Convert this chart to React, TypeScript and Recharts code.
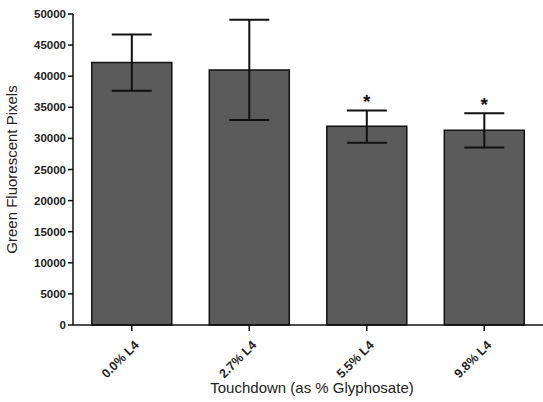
import { ComposedChart, Bar, ErrorBar, Scatter, XAxis, YAxis } from 'recharts';

const categories = ['0.0% L4', '2.7% L4', '5.5% L4', '9.8% L4'];
const means = [42200, 41000, 31950, 31330];
const lower = [37650, 32950, 29300, 28550];
const upper = [46720, 49080, 34500, 34030];
const significant = [false, false, true, true];
const yTicks = [0, 5000, 10000, 15000, 20000, 25000, 30000, 35000, 40000, 45000, 50000];

const data = categories.map((name, i) => ({
  name,
  value: means[i],
  err: [means[i] - lower[i], upper[i] - means[i]],
  star: significant[i] ? upper[i] : null,
}));

const textColor = '#222';

// rotated category labels under each tick
const AngledTick = ({ x, y, payload }: any) => (
  <g transform={`translate(${x + 5},${y + 10})`}>
    <text
      x={0}
      y={0}
      dy={4}
      textAnchor="end"
      transform="rotate(-45)"
      fontSize={12.5}
      fontWeight="bold"
      fill={textColor}
      fontFamily="Liberation Sans, Arial, sans-serif"
    >
      {payload.value}
    </text>
  </g>
);

const Star = ({ cx, cy, payload }: any) => {
  if (payload.star == null) return <g />;
  return (
    <text x={cx} y={cy - 2} textAnchor="middle" fontSize={19} fontWeight="bold" fill="#111"
      fontFamily="Liberation Sans, Arial, sans-serif">
      *
    </text>
  );
};

export default function App() {
  return (
    <div style={{ position: 'absolute', left: 0, top: 0, width: 543, height: 402, background: '#fff' }}>
      <ComposedChart
        width={543}
        height={402}
        data={data}
        margin={{ top: 14, right: 0, bottom: 0, left: 0 }}
        barCategoryGap="16%"
        style={{ fontFamily: 'Liberation Sans, Arial, sans-serif' }}
      >
        <XAxis
          dataKey="name"
          height={77}
          stroke="#111"
          strokeWidth={1.5}
          tickSize={6}
          tick={<AngledTick />}
          interval={0}
          label={{
            value: 'Touchdown (as % Glyphosate)',
            position: 'insideBottom',
            offset: 9,
            dx: 4,
            fontSize: 15,
            fill: textColor,
          }}
        />
        <YAxis
          width={73}
          domain={[0, 50000]}
          ticks={yTicks}
          interval={0}
          stroke="#111"
          strokeWidth={1.5}
          tickSize={5}
          tick={{ fontSize: 11.5, fontWeight: 'bold', fill: textColor }}
          label={{
            value: 'Green Fluorescent Pixels',
            angle: -90,
            position: 'insideLeft',
            offset: 12,
            fontSize: 15,
            fill: textColor,
            style: { textAnchor: 'middle' },
          }}
        />
        <Bar dataKey="value" fill="#5b5b5b" stroke="#111" strokeWidth={1.5} isAnimationActive={false}>
          <ErrorBar dataKey="err" width={20} stroke="#111" strokeWidth={2} direction="y" />
        </Bar>
        <Scatter dataKey="star" shape={<Star />} isAnimationActive={false} />
      </ComposedChart>
    </div>
  );
}
